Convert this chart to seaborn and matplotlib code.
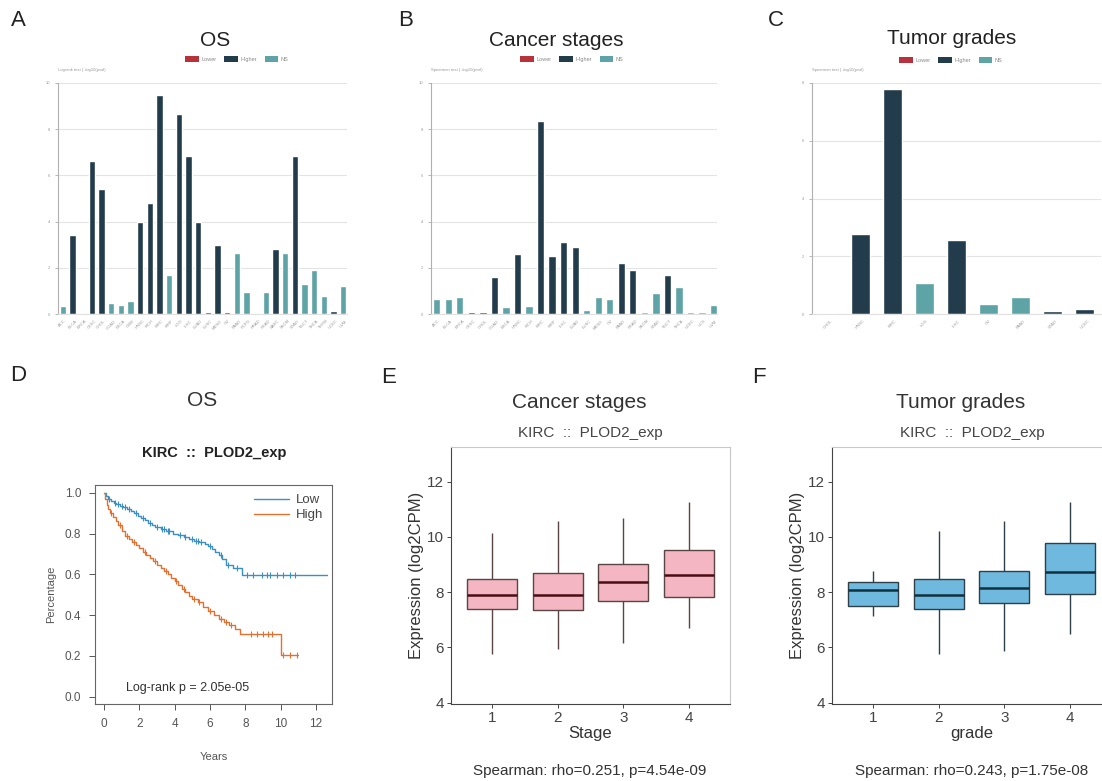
import numpy as np
import pandas as pd
import matplotlib
matplotlib.use("Agg")
import matplotlib.pyplot as plt
from matplotlib.patches import Patch
import seaborn as sns

W, H = 1102, 781

# ---- top row: -log10(p) bar charts ----
os_cancers = ["ACC", "BLCA", "BRCA", "CESC", "CHOL", "COAD", "ESCA", "GBM", "HNSC", "KICH",
              "KIRC", "KIRP", "LGG", "LIHC", "LUAD", "LUSC", "MESO", "OV", "PAAD", "PCPG",
              "PRAD", "READ", "SARC", "SKCM", "STAD", "TGCT", "THCA", "THYM", "UCEC", "UVM"]
os_values = [0.36, 3.42, 0.04, 6.64, 5.42, 0.46, 0.40, 0.56, 4.00, 4.82,
             9.46, 1.68, 8.66, 6.84, 4.00, 0.08, 2.98, 0.08, 2.62, 0.96,
             0.02, 0.96, 2.80, 2.62, 6.84, 1.30, 1.90, 0.78, 0.12, 1.20]
os_groups = ["NS", "Higher", "Higher", "Higher", "Higher", "NS", "NS", "NS", "Higher", "Higher",
             "Higher", "NS", "Higher", "Higher", "Higher", "Higher", "Higher", "Higher", "NS", "NS",
             "NS", "NS", "Higher", "NS", "Higher", "NS", "NS", "NS", "Higher", "NS"]

stage_cancers = ["ACC", "BLCA", "BRCA", "CESC", "CHOL", "COAD", "ESCA", "HNSC", "KICH", "KIRC",
                 "KIRP", "LIHC", "LUAD", "LUSC", "MESO", "OV", "PAAD", "READ", "SKCM", "STAD",
                 "TGCT", "THCA", "UCEC", "UCS", "UVM"]
stage_values = [0.65, 0.65, 0.74, 0.10, 0.07, 1.60, 0.30, 2.59, 0.33, 8.36,
                2.52, 3.10, 2.92, 0.16, 0.73, 0.63, 2.20, 1.89, 0.09, 0.89,
                1.70, 1.18, 0.09, 0.10, 0.38]
stage_groups = ["NS", "NS", "NS", "Higher", "Higher", "Higher", "NS", "Higher", "NS", "Higher",
                "Higher", "Higher", "Higher", "NS", "NS", "NS", "Higher", "Higher", "NS", "NS",
                "Higher", "NS", "NS", "NS", "NS"]

grade_cancers = ["CHOL", "HNSC", "KIRC", "LGG", "LIHC", "OV", "PAAD", "STAD", "UCEC"]
grade_values = [0.02, 2.78, 7.78, 1.06, 2.58, 0.36, 0.58, 0.12, 0.16]
grade_groups = ["NS", "Higher", "Higher", "NS", "Higher", "NS", "NS", "Higher", "Higher"]

legend_labels = ["Lower", "Higher", "NS"]
grp_colors = {"Lower": "#b8323d", "Higher": "#233c4c", "NS": "#5ea3a5"}

# ---- D: Kaplan-Meier ----
low_t = [0, 0.1, 0.25, 0.4, 0.55, 0.7, 0.9, 1.1, 1.3, 1.5, 1.7, 1.9, 2.1, 2.3, 2.5, 2.7, 2.9,
         3.2, 3.5, 3.9, 4.2, 4.5, 4.8, 5.1, 5.4, 5.7, 5.9, 6.1, 6.3, 6.5, 6.7, 6.9, 7.3, 7.8, 12.6]
low_s = [1.0, 0.985, 0.97, 0.96, 0.95, 0.945, 0.935, 0.93, 0.92, 0.91, 0.90, 0.885, 0.875, 0.865,
         0.85, 0.84, 0.83, 0.82, 0.81, 0.80, 0.795, 0.785, 0.775, 0.765, 0.76, 0.75, 0.74, 0.725,
         0.71, 0.695, 0.675, 0.645, 0.63, 0.595, 0.595]
low_cens = [0.3, 0.6, 0.8, 1.0, 1.2, 1.4, 1.8, 2.2, 2.6, 3.0, 3.3, 3.4, 3.6, 3.7, 4.3, 4.6,
            5.0, 5.2, 5.3, 5.5, 6.0, 6.6, 7.0, 7.5, 8.07, 8.45, 8.92, 9.2, 9.4, 9.77, 10.15, 10.5, 10.8]

high_t = [0, 0.05, 0.15, 0.25, 0.35, 0.5, 0.65, 0.8, 1.0, 1.2, 1.4, 1.6, 1.8, 2.0, 2.2, 2.4, 2.6,
          2.8, 3.0, 3.2, 3.4, 3.6, 3.8, 4.0, 4.2, 4.4, 4.6, 4.8, 5.0, 5.3, 5.6, 5.9, 6.2, 6.5, 6.8,
          7.1, 7.4, 7.7, 10.0, 11.0]
high_s = [1.0, 0.97, 0.94, 0.92, 0.90, 0.88, 0.86, 0.84, 0.81, 0.79, 0.775, 0.76, 0.745, 0.73,
          0.71, 0.695, 0.68, 0.665, 0.645, 0.63, 0.615, 0.60, 0.58, 0.565, 0.55, 0.53, 0.515,
          0.495, 0.48, 0.465, 0.44, 0.42, 0.40, 0.38, 0.365, 0.35, 0.33, 0.305, 0.205, 0.205]
high_cens = [0.4, 0.9, 1.3, 1.7, 2.3, 2.9, 3.5, 4.1, 4.5, 5.1, 5.4, 6.0, 6.6, 6.9, 7.2,
             8.3, 8.64, 9.0, 9.3, 9.5, 10.15, 10.5, 10.9]

# ---- E/F: boxplot summaries (lower whisker, Q1, median, Q3, upper whisker) ----
stage_levels = ["1", "2", "3", "4"]
stage_box = [[5.75, 7.40, 7.90, 8.48, 10.12],
             [5.93, 7.34, 7.90, 8.70, 10.57],
             [6.14, 7.67, 8.37, 9.00, 10.69],
             [6.70, 7.83, 8.61, 9.51, 11.27]]
grade_levels = ["1", "2", "3", "4"]
grade_box = [[7.13, 7.49, 8.06, 8.36, 8.76],
             [5.75, 7.37, 7.88, 8.48, 10.20],
             [5.87, 7.61, 8.13, 8.78, 10.57],
             [6.47, 7.92, 8.72, 9.78, 11.25]]

sns.set_style("white")
plt.rcParams["font.family"] = ["Liberation Sans", "DejaVu Sans"]

fig = plt.figure(figsize=(W / 100, H / 100), dpi=100)


def add_ax(x0, y0, x1, y1):
    return fig.add_axes([x0 / W, 1 - y1 / H, (x1 - x0) / W, (y1 - y0) / H])


def ftext(x, y, s, **kw):
    fig.text(x / W, 1 - y / H, s, **kw)


def bar_panel(box, cancers, values, groups, ymax, ylab, xright, bw):
    ax = add_ax(*box)
    df = pd.DataFrame({"cancer": cancers, "value": values, "group": groups})
    sns.barplot(data=df, x="cancer", y="value", hue="group", order=cancers,
                palette=grp_colors, dodge=False, width=bw, saturation=1,
                legend=False, ax=ax)
    ax.set_xlim(-0.5, xright)
    ax.set_ylim(0, ymax)
    ax.set_yticks(np.arange(0, ymax + 0.1, 2))
    ax.yaxis.grid(True, color="#e4e4e4", linewidth=0.8)
    ax.set_axisbelow(True)
    for s in ["top", "right"]:
        ax.spines[s].set_visible(False)
    ax.spines["left"].set_color("#b0b0b0")
    ax.spines["bottom"].set_color("#e0e0e0")
    ax.tick_params(axis="y", labelsize=3, colors="#999999", length=2, width=0.5, left=True)
    ax.tick_params(axis="x", labelsize=3, colors="#999999", length=0, rotation=45)
    ax.set_xlabel("")
    ax.set_ylabel("")
    ax.text(0.0, 1.05, ylab, transform=ax.transAxes, fontsize=3, color="#999999", ha="left")
    return ax


def top_legend(cx, cy):
    handles = [Patch(facecolor=grp_colors[k], edgecolor="none") for k in legend_labels]
    fig.legend(handles, legend_labels, loc="center", bbox_to_anchor=(cx / W, 1 - cy / H),
               ncol=3, frameon=False, fontsize=4, handlelength=2.4, handleheight=1.2,
               handletextpad=0.5, columnspacing=1.4, labelcolor="#888888")


bar_panel((58, 83, 347, 314), os_cancers, os_values, os_groups, 10,
          "Logrank test | -log10(pval)", 29.4, 0.64)
ftext(215, 40, "OS", fontsize=15, ha="center", va="center", color="#222222")
top_legend(237, 59)

bar_panel((431, 83, 717, 314), stage_cancers, stage_values, stage_groups, 10,
          "Spearman test | -log10(pval)", 24.3, 0.63)
ftext(556, 40, "Cancer stages", fontsize=15, ha="center", va="center", color="#222222")
top_legend(572, 59)

bar_panel((812, 83, 1101, 314), grade_cancers, grade_values, grade_groups, 8,
          "Spearman test | -log10(pval)", 8.5, 0.59)
ftext(952, 39, "Tumor grades", fontsize=15, ha="center", va="center", color="#222222")
top_legend(951, 60)

# ---- D ----
ax = add_ax(95, 485, 332, 704)
low_color, high_color = "#3a8fc4", "#e4702f"
sns.lineplot(x=low_t, y=low_s, drawstyle="steps-post", estimator=None, sort=False,
             color=low_color, linewidth=1.0, ax=ax, label="Low")
sns.lineplot(x=high_t, y=high_s, drawstyle="steps-post", estimator=None, sort=False,
             color=high_color, linewidth=1.0, ax=ax, label="High")


def surv_at(t_arr, s_arr, tc):
    idx = np.searchsorted(np.array(t_arr), np.array(tc), side="right") - 1
    return np.array(s_arr)[idx]


ax.plot(low_cens, surv_at(low_t, low_s, low_cens), "|", color=low_color, markersize=4, mew=0.8)
ax.plot(high_cens, surv_at(high_t, high_s, high_cens), "|", color=high_color, markersize=4, mew=0.8)
ax.set_xlim(-0.51, 12.9)
ax.set_ylim(-0.036, 1.038)
ax.set_xticks(range(0, 13, 2))
ax.set_yticks(np.arange(0, 1.01, 0.2))
ax.set_yticklabels([f"{v:.1f}" for v in np.arange(0, 1.01, 0.2)])
ax.tick_params(labelsize=8.5, colors="#555555", length=4, width=0.7, direction="out",
               bottom=True, left=True, pad=6)
for s in ax.spines.values():
    s.set_color("#666666")
    s.set_linewidth(0.8)
ax.set_xlabel("Years", fontsize=8, color="#555555", labelpad=16)
ax.set_ylabel("Percentage", fontsize=8, color="#555555", labelpad=6)
ax.legend(loc="upper right", frameon=False, fontsize=9.5, handlelength=2.6,
          handletextpad=0.5, borderaxespad=0.3, labelspacing=0.2, labelcolor="#444444")
ax.text(0.39, 0.045, "Log-rank p = 2.05e-05", transform=ax.transAxes, fontsize=9,
        color="#333333", ha="center", va="bottom")
ftext(202, 401, "OS", fontsize=15, ha="center", va="center", color="#333333")
ftext(214, 453, "KIRC  ::  PLOD2_exp", fontsize=10.5, fontweight="bold", ha="center",
      va="center", color="#222222")


# ---- E / F ----
def box_panel(box, levels, stats, fill, edge, med, xlab, title, note, cx):
    ax = add_ax(*box)
    df = pd.DataFrame({"grp": np.repeat(levels, 5), "expr": np.concatenate(stats)})
    sns.boxplot(data=df, x="grp", y="expr", order=levels, whis=(0, 100), width=0.76,
                color=fill, linecolor=edge, linewidth=1.0, saturation=1, fliersize=0,
                showcaps=False, medianprops=dict(color=med, linewidth=1.8), ax=ax)
    ax.set_xlim(-0.62, 3.62)
    ax.set_ylim(3.95, 13.25)
    ax.set_yticks([4, 6, 8, 10, 12])
    ax.tick_params(labelsize=11, colors="#444444", length=3, width=0.7, direction="out",
                   bottom=True, left=True, pad=2)
    for s in ["top", "right"]:
        ax.spines[s].set_color("#c8c8c8")
        ax.spines[s].set_linewidth(0.8)
    for s in ["left", "bottom"]:
        ax.spines[s].set_color("#444444")
        ax.spines[s].set_linewidth(0.8)
    ax.set_xlabel(xlab, fontsize=12, color="#333333", labelpad=1)
    ax.set_ylabel("Expression (log2CPM)", fontsize=12, color="#333333", labelpad=2)
    ftext(cx, 402, title, fontsize=15, ha="center", va="center", color="#333333")
    ftext(cx + 11, 433, "KIRC  ::  PLOD2_exp", fontsize=11, ha="center", va="center",
          color="#444444")
    ftext(cx + 11, 771, note, fontsize=11, ha="center", va="center", color="#333333")
    return ax


box_panel((451, 447, 730, 704), stage_levels, stage_box, "#f4b6c3", "#5a4444", "#4a0d14",
          "Stage", "Cancer stages", "Spearman: rho=0.251, p=4.54e-09", 579)
box_panel((832, 447, 1111, 704), grade_levels, grade_box, "#70b9de", "#2f3f48", "#12313f",
          "grade", "Tumor grades", "Spearman: rho=0.243, p=1.75e-08", 961)

# panel letters
for lab, x, y in [("A", 11, 10), ("B", 398, 10), ("C", 768, 10),
                  ("D", 10, 365), ("E", 381, 367), ("F", 752, 367)]:
    ftext(x, y, lab, fontsize=16, ha="left", va="top", color="#222222")

fig.savefig("out.png", dpi=100)
